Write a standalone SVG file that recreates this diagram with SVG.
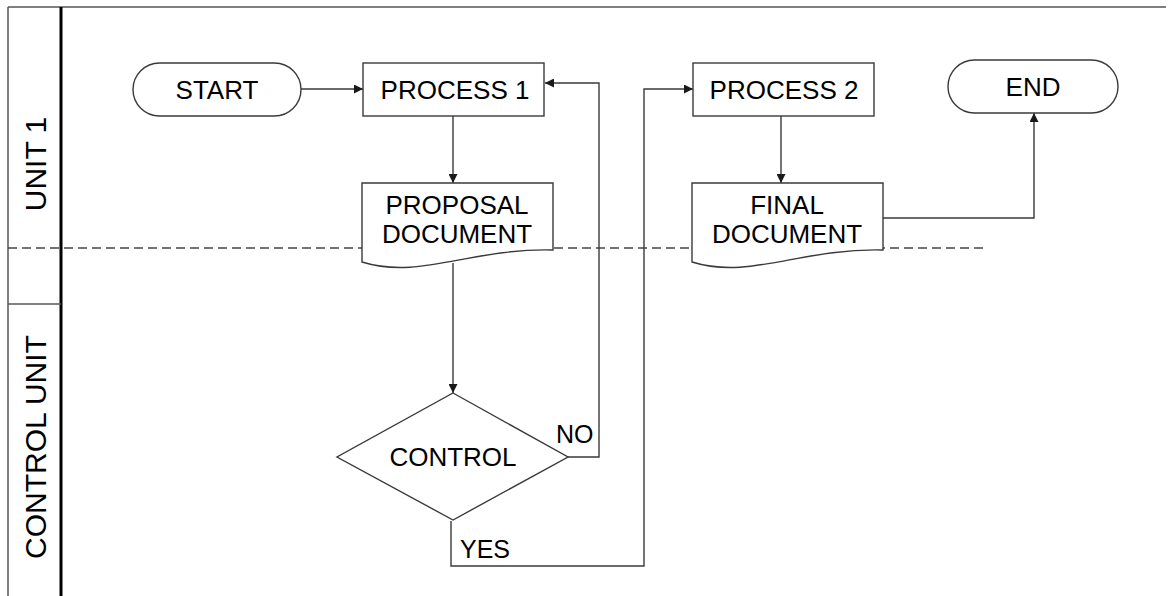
<svg xmlns="http://www.w3.org/2000/svg" width="1169" height="596" viewBox="0 0 1169 596">
  <style>
    .shape { fill: #ffffff; stroke: #3a3a3a; stroke-width: 1.4; }
    .wire { fill: none; stroke: #3a3a3a; stroke-width: 1.4; }
    .label { font-family: "Liberation Sans", Arial, sans-serif; font-size: 26px; fill: #000; text-anchor: middle; dominant-baseline: central; }
    .lane-label { font-family: "Liberation Sans", Arial, sans-serif; font-size: 30px; fill: #000; text-anchor: middle; dominant-baseline: central; }
    .edge-label { font-family: "Liberation Sans", Arial, sans-serif; font-size: 25px; fill: #000; }
  </style>
  <defs>
    <marker id="arrow" viewBox="0 0 10 10" refX="10" refY="5" markerWidth="9" markerHeight="9" markerUnits="userSpaceOnUse" orient="auto">
      <path d="M0,0 L10,5 L0,10 Z" fill="#1a1a1a"/>
    </marker>
  </defs>

  <rect width="1169" height="596" fill="#ffffff"/>

  <!-- swimlane frame -->
  <g id="lanes">
    <line x1="8" y1="7" x2="1166" y2="7" stroke="#555" stroke-width="1.5"/>
    <line x1="8" y1="7" x2="8" y2="596" stroke="#555" stroke-width="1.5"/>
    <line x1="61" y1="7" x2="61" y2="596" stroke="#000" stroke-width="3"/>
    <line x1="8" y1="304" x2="61" y2="304" stroke="#555" stroke-width="1.5"/>
    <line x1="8" y1="248" x2="985" y2="248" stroke="#444" stroke-width="1.3" stroke-dasharray="9,5"/>
    <text class="lane-label" transform="translate(35,164) rotate(-90)">UNIT 1</text>
    <text class="lane-label" transform="translate(35,447) rotate(-90)">CONTROL UNIT</text>
  </g>

  <!-- connectors -->
  <g id="connectors">
    <line class="wire" x1="301" y1="89" x2="363" y2="89" marker-end="url(#arrow)"/>
    <line class="wire" x1="453" y1="116" x2="453" y2="183" marker-end="url(#arrow)"/>
    <line class="wire" x1="453" y1="263" x2="453" y2="393" marker-end="url(#arrow)"/>
    <polyline class="wire" points="568,457 599,457 599,83 545,83" marker-end="url(#arrow)"/>
    <polyline class="wire" points="451,521 451,566 644,566 644,89 693,89" marker-end="url(#arrow)"/>
    <line class="wire" x1="781" y1="116" x2="781" y2="183" marker-end="url(#arrow)"/>
    <polyline class="wire" points="883,218 1034,218 1034,113" marker-end="url(#arrow)"/>
    <text class="edge-label" x="556" y="443">NO</text>
    <text class="edge-label" x="460" y="558">YES</text>
  </g>

  <g id="start">
    <rect class="shape" x="133" y="63" width="168" height="53" rx="26.5" ry="26.5"/>
    <text class="label" x="217" y="90">START</text>
  </g>

  <g id="process1">
    <rect class="shape" x="363" y="63" width="181" height="53"/>
    <text class="label" x="455" y="90">PROCESS 1</text>
  </g>

  <g id="proposal-document">
    <path class="shape" d="M362,183 L553,183 L553,250 C470,248 420,280 362,262 Z"/>
    <text class="label" x="457" y="205">PROPOSAL</text>
    <text class="label" x="457" y="234">DOCUMENT</text>
  </g>

  <g id="control">
    <polygon class="shape" points="453,393 568,457 453,520 337,457"/>
    <text class="label" x="453" y="457">CONTROL</text>
  </g>

  <g id="process2">
    <rect class="shape" x="693" y="63" width="181" height="53"/>
    <text class="label" x="784" y="90">PROCESS 2</text>
  </g>

  <g id="final-document">
    <path class="shape" d="M692,183 L883,183 L883,250 C800,248 750,280 692,262 Z"/>
    <text class="label" x="787" y="205">FINAL</text>
    <text class="label" x="787" y="234">DOCUMENT</text>
  </g>

  <g id="end">
    <rect class="shape" x="948" y="60" width="170" height="53" rx="26.5" ry="26.5"/>
    <text class="label" x="1033" y="87">END</text>
  </g>
</svg>
